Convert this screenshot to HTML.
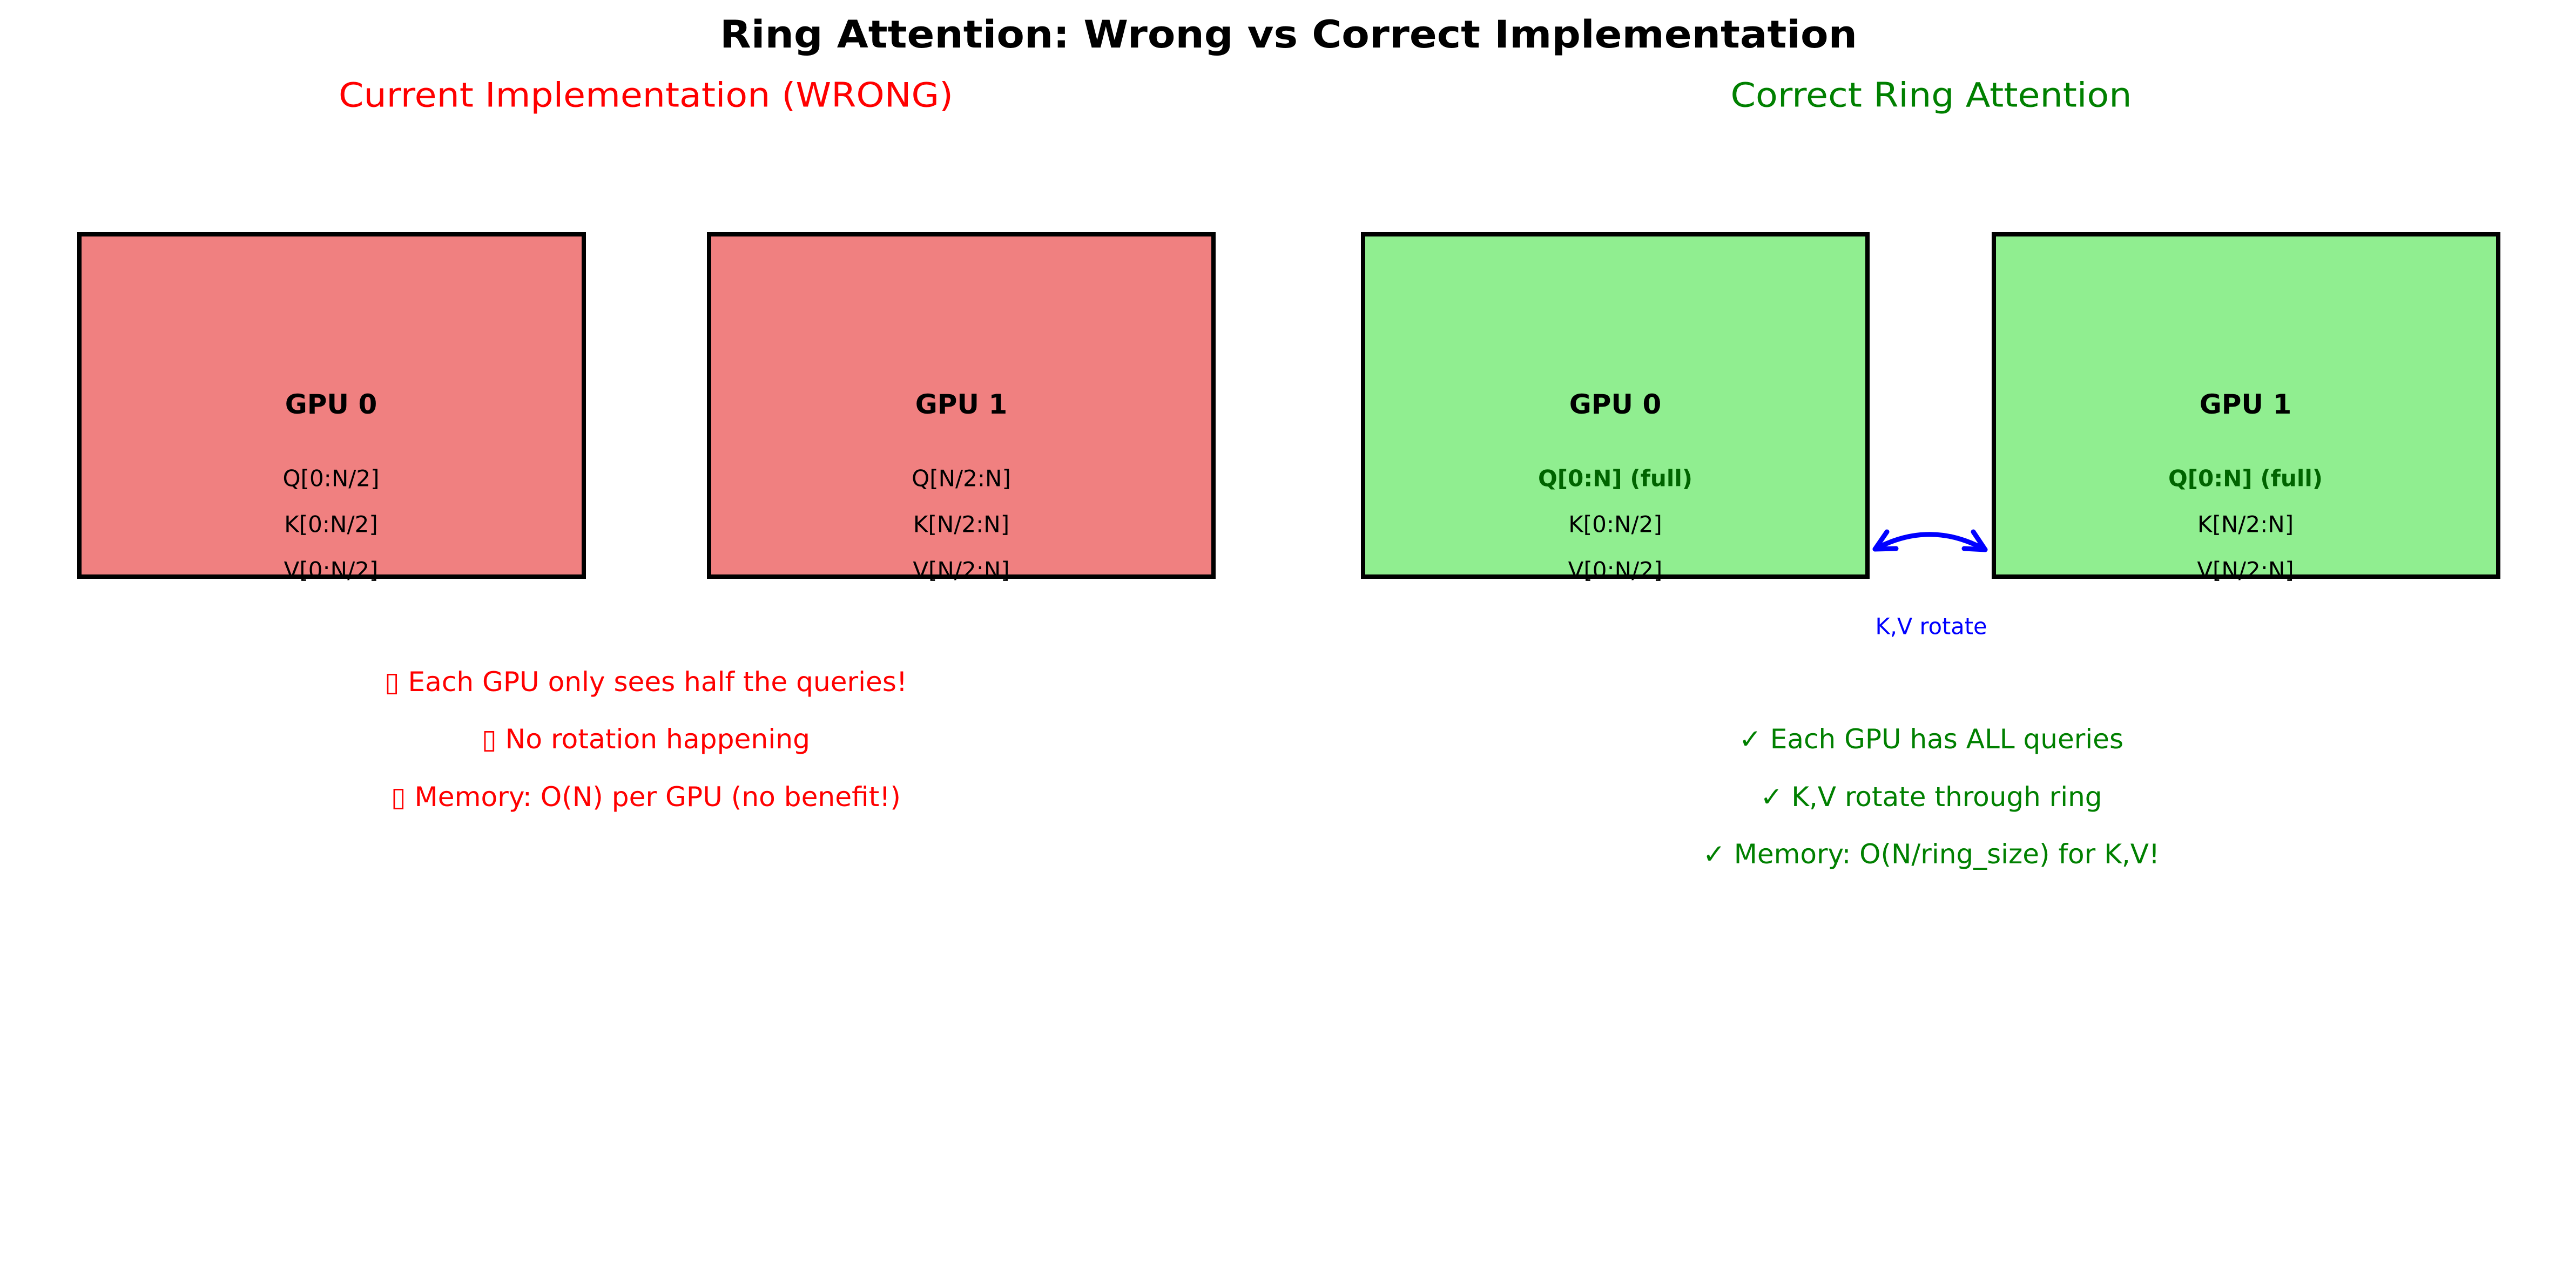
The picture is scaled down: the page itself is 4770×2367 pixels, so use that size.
<!DOCTYPE html>
<html><head><meta charset="utf-8"><style>
html,body{margin:0;padding:0;background:#fff;}
svg{display:block;}
text{font-family:"DejaVu Sans","Liberation Sans",sans-serif;}
</style></head><body>
<svg width="4770" height="2367" viewBox="0 0 4770 2367" xmlns="http://www.w3.org/2000/svg">
<rect width="4770" height="2367" fill="#fff"/>
<g dominant-baseline="central" text-anchor="middle">
<text x="2386" y="64" font-size="70" font-weight="bold" textLength="2106" lengthAdjust="spacingAndGlyphs">Ring Attention: Wrong vs Correct Implementation</text>
<text x="1196" y="176" font-size="62" fill="#ff0000" textLength="1138" lengthAdjust="spacingAndGlyphs">Current Implementation (WRONG)</text>
<text x="3576" y="176" font-size="62" fill="#008000" textLength="743" lengthAdjust="spacingAndGlyphs">Correct Ring Attention</text>
</g>
<g stroke="#000" stroke-width="8">
<rect x="147" y="434" width="934" height="634" fill="#f08080"/>
<rect x="1313" y="434" width="934" height="634" fill="#f08080"/>
<rect x="2524" y="434" width="934" height="634" fill="#90ee90"/>
<rect x="3692" y="434" width="934" height="634" fill="#90ee90"/>
</g>
<g dominant-baseline="central" text-anchor="middle" font-size="42">
<text x="613" y="749" font-size="50" font-weight="bold">GPU 0</text>
<text x="613" y="886">Q[0:N/2]</text>
<text x="613" y="971">K[0:N/2]</text>
<text x="613" y="1056">V[0:N/2]</text>
<text x="1780" y="749" font-size="50" font-weight="bold">GPU 1</text>
<text x="1780" y="886">Q[N/2:N]</text>
<text x="1780" y="971">K[N/2:N]</text>
<text x="1780" y="1056">V[N/2:N]</text>
<text x="2991" y="749" font-size="50" font-weight="bold">GPU 0</text>
<text x="2991" y="886" font-weight="bold" fill="#006400" textLength="286" lengthAdjust="spacingAndGlyphs">Q[0:N] (full)</text>
<text x="2991" y="971">K[0:N/2]</text>
<text x="2991" y="1056">V[0:N/2]</text>
<text x="4158" y="749" font-size="50" font-weight="bold">GPU 1</text>
<text x="4158" y="886" font-weight="bold" fill="#006400" textLength="286" lengthAdjust="spacingAndGlyphs">Q[0:N] (full)</text>
<text x="4158" y="971">K[N/2:N]</text>
<text x="4158" y="1056">V[N/2:N]</text>
<text x="3576" y="1160" fill="#0000ff" textLength="207" lengthAdjust="spacingAndGlyphs">K,V rotate</text>
</g>
<g fill="none" stroke="#0000ff" stroke-width="9" stroke-linecap="round" stroke-linejoin="round">
<path d="M3472 1017 Q3574 962 3676 1018"/>
<path d="M3494 985 L3472 1017 L3511 1016"/>
<path d="M3654 985 L3676 1018 L3637 1016"/>
</g>
<g dominant-baseline="central" text-anchor="middle" font-size="50">
<text x="1196" y="1263" fill="#ff0000" textLength="968" lengthAdjust="spacingAndGlyphs">▯ Each GPU only sees half the queries!</text>
<text x="1196" y="1369" fill="#ff0000" textLength="608" lengthAdjust="spacingAndGlyphs">▯ No rotation happening</text>
<text x="1196" y="1476" fill="#ff0000" textLength="944" lengthAdjust="spacingAndGlyphs">▯ Memory: O(N) per GPU (no benefit!)</text>
<text x="3576" y="1369" fill="#008000" textLength="712" lengthAdjust="spacingAndGlyphs">✓ Each GPU has ALL queries</text>
<text x="3576" y="1476" fill="#008000" textLength="633" lengthAdjust="spacingAndGlyphs">✓ K,V rotate through ring</text>
<text x="3576" y="1582" fill="#008000" textLength="846" lengthAdjust="spacingAndGlyphs">✓ Memory: O(N/ring_size) for K,V!</text>
</g>
</svg>
</body></html>
